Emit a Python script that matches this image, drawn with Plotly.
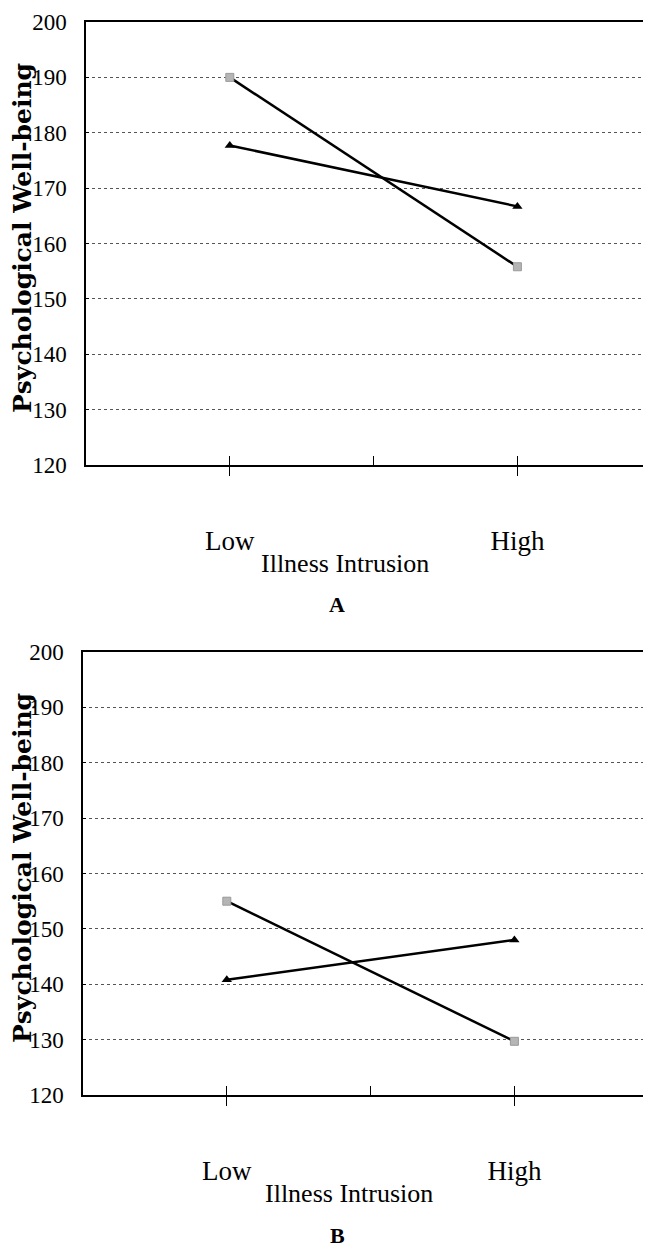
import plotly.graph_objects as go

# ---- data ----
categories = ["Low", "High"]
cat_pos = [1, 3]
mid_tick = [2]
y_tick_vals = [120, 130, 140, 150, 160, 170, 180, 190, 200]

a_square = [190.0, 155.8]
a_triangle = [177.7, 166.7]
b_square = [155.0, 129.7]
b_triangle = [140.8, 148.0]

panel_labels = ["A", "B"]
x_title = "Illness Intrusion"
y_title = "Psychological Well-being"

W, H = 651, 1251
OFF = 8  # page body margin offset

fig = go.Figure()

line_style = dict(color="black", width=2.5)
sq_marker = dict(symbol="square", size=8, color="#b5b5b5", line=dict(color="#9a9a9a", width=1))
tri_marker = dict(symbol="triangle-up", size=9, color="black")

for xa, ya, sq, tri in [("x", "y", a_square, a_triangle), ("x2", "y2", b_square, b_triangle)]:
    fig.add_trace(go.Scatter(x=cat_pos, y=sq, mode="lines+markers", line=line_style,
                             marker=sq_marker, xaxis=xa, yaxis=ya, showlegend=False,
                             cliponaxis=False))
    fig.add_trace(go.Scatter(x=cat_pos, y=tri, mode="lines+markers", line=line_style,
                             marker=tri_marker, xaxis=xa, yaxis=ya, showlegend=False,
                             cliponaxis=False))

def px_y(p):
    return 1 - (p - OFF) / H

def px_x(p):
    return (p - OFF) / W

tick_font = dict(family="Liberation Serif", size=23, color="black")

def xaxis_cfg(left_px, anchor):
    return dict(
        domain=[px_x(left_px), 1], anchor=anchor, range=[0, (W - (left_px - OFF)) / 143.8],
        automargin=False,
        showline=True, linecolor="black", linewidth=2, mirror=True,
        showgrid=False, zeroline=False,
        tickmode="array", tickvals=cat_pos + mid_tick,
        ticktext=[categories[0], categories[1], ""],
        ticks="outside", ticklen=9, tickwidth=1, tickcolor="black",
        minor=dict(tickmode="array", tickvals=cat_pos + mid_tick, ticks="inside",
                   ticklen=9, tickwidth=1, tickcolor="black"),
        tickfont=dict(family="Liberation Serif", size=27, color="black"),
        ticklabelstandoff=42,
    )

def yaxis_cfg(top_px, bot_px, anchor):
    return dict(
        domain=[px_y(bot_px), px_y(top_px)], anchor=anchor, range=[120, 200],
        automargin=False,
        tickmode="array", tickvals=y_tick_vals,
        showline=True, linecolor="black", linewidth=1.5,
        showgrid=True, gridcolor="#555555", gridwidth=1, griddash="dot",
        zeroline=False, ticks="inside", ticklen=3, tickcolor="black",
        tickfont=tick_font, ticklabelstandoff=13,
    )

fig.update_layout(
    width=W, height=H,
    margin=dict(l=0, r=0, t=0, b=0, autoexpand=False),
    paper_bgcolor="white", plot_bgcolor="white",
    xaxis=xaxis_cfg(86, "y"),
    yaxis=yaxis_cfg(22, 465, "x"),
    xaxis2=xaxis_cfg(83, "y2"),
    yaxis2=yaxis_cfg(652, 1095, "x2"),
)

ann = []
for yc in [238, 868]:
    ann.append(dict(text=y_title, x=px_x(22), y=px_y(yc), xref="paper", yref="paper",
                    textangle=-90, showarrow=False, xanchor="center", yanchor="middle",
                    font=dict(family="DejaVu Serif", size=25, color="black", weight="bold")))
for xc, yc in [(345, 563), (349, 1193)]:
    ann.append(dict(text=x_title, x=px_x(xc), y=px_y(yc), xref="paper", yref="paper",
                    showarrow=False, xanchor="center", yanchor="middle",
                    font=dict(family="Liberation Serif", size=26, color="black")))
for lab, yc in zip(panel_labels, [604, 1235]):
    ann.append(dict(text=lab, x=px_x(337), y=px_y(yc), xref="paper", yref="paper",
                    showarrow=False, xanchor="center", yanchor="middle",
                    font=dict(family="Liberation Serif", size=22, color="black", weight="bold")))
fig.update_layout(annotations=ann)

fig.write_html("out.html")
